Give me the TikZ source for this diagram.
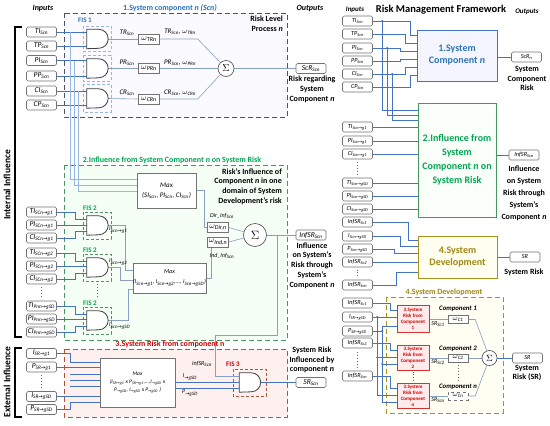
\documentclass[tikz,border=0pt]{standalone}
\usepackage{fontspec}
\setmainfont{Carlito}
\newfontfamily\arrfont{DejaVu Sans}
\usetikzlibrary{calc}
\definecolor{cBlue}{RGB}{46,117,182}
\definecolor{cGreen}{RGB}{0,165,80}
\definecolor{cRed}{RGB}{204,0,0}
\definecolor{cOlive}{RGB}{160,135,20}
\definecolor{lnBlue}{RGB}{68,114,196}
\definecolor{lnLight}{RGB}{150,182,228}
\definecolor{lnGray}{RGB}{135,160,195}
\definecolor{bxGray}{RGB}{115,115,115}
\definecolor{dashA}{RGB}{68,84,106}
\definecolor{dashB}{RGB}{70,150,95}
\definecolor{dashC}{RGB}{175,85,60}
\definecolor{dashD}{RGB}{170,145,30}
\pgfdeclarelayer{secs}
\pgfdeclarelayer{wires}
\pgfsetlayers{secs,wires,main}
\newcommand{\myar}{{\arrfont →}}
\newcommand{\sbs}[1]{\textsubscript{#1}}
\newcommand{\gateshape}[1]{\draw[gateline] (#1.south west) -- (#1.north west) -- ([xshift=-9.5pt]#1.north east) arc[start angle=90,end angle=-90,radius=9.5pt] -- cycle;}
\tikzset{
  var/.style={draw=bxGray, rounded corners=1.5pt, fill=white, minimum width=30pt, minimum height=10pt, inner sep=0pt, line width=0.6pt, font=\fontsize{7.5}{8}\selectfont\itshape},
  rvar/.style={var, font=\fontsize{6.2}{7}\selectfont\itshape},
  wbox/.style={draw=bxGray, fill=white, minimum width=21pt, minimum height=10pt, inner sep=0pt, line width=0.5pt, font=\fontsize{8}{8}\selectfont\itshape},
  maxbox/.style={draw=bxGray, fill=white, inner sep=0pt, line width=0.6pt, font=\fontsize{7}{10}\selectfont\itshape, align=center},
  gatenode/.style={minimum width=21pt, minimum height=19pt, inner sep=0pt},
  gateline/.style={draw=black!75, line width=0.8pt, fill=white},
  sumnode/.style={circle, draw=black!70, fill=white, line width=0.6pt, inner sep=0pt},
  wr/.style={draw=lnBlue, line width=0.6pt},
  wrl/.style={draw=lnLight, line width=0.6pt},
  wrg/.style={draw=lnGray, line width=0.6pt},
  lbl/.style={font=\fontsize{8}{9.7}\selectfont\bfseries, align=center, inner sep=0pt},
  smalltxt/.style={font=\fontsize{7}{8}\selectfont\itshape, inner sep=0.5pt},
  tinytxt/.style={font=\fontsize{6}{7}\selectfont\itshape, inner sep=0.5pt},
  fis/.style={font=\fontsize{7}{8}\selectfont\bfseries, inner sep=0pt},
  secbox/.style={dash pattern=on 5pt off 3pt, line width=0.9pt},
  fisbox/.style={dash pattern=on 3pt off 2pt, line width=0.6pt},
  jdot/.style={circle, fill=lnBlue, inner sep=0pt, minimum size=2.4pt},
  bigbox/.style={line width=1pt, align=center, inner sep=0pt},
  pinkbox/.style={draw=cRed!80, fill=red!8, line width=0.6pt, minimum width=32pt, align=center, inner sep=0pt, text=cRed, font=\fontsize{5}{6}\selectfont\bfseries},
  vdots/.style={dotted, line width=0.9pt, draw=black!60},
  hdr/.style={font=\fontsize{8}{9}\selectfont\bfseries\itshape, inner sep=0pt},
  complbl/.style={font=\fontsize{6.8}{8}\selectfont\bfseries\itshape, inner sep=0pt},
}
\begin{document}
\begin{tikzpicture}[x=1pt,y=-1pt]
\useasboundingbox (0,0) rectangle (550,426);
\begin{pgfonlayer}{secs}
\fill[white] (0,0) rectangle (550,426);
\draw[secbox, draw=dashA, fill=blue!2] (64,13) rectangle (287,117);
\draw[secbox, draw=dashB, fill=green!4] (64,165) rectangle (287,340);
\draw[secbox, draw=dashC, fill=red!6] (64,349) rectangle (287,417);
\draw[secbox, draw=dashD, fill=yellow!5] (386,297) rectangle (503,413);
\draw[fisbox, draw=lnLight] (83,26) rectangle (111,51);
\draw[fisbox, draw=lnLight] (83,55) rectangle (111,81);
\draw[fisbox, draw=lnLight] (83,84) rectangle (111,112);
\draw[fisbox, draw=dashB!70!gray] (83,212) rectangle (111,239);
\draw[fisbox, draw=dashB!70!gray] (83,254) rectangle (111,281);
\draw[fisbox, draw=dashB!70!gray] (83,307) rectangle (111,334);
\draw[fisbox, draw=dashC] (233,369) rectangle (266,396);
\end{pgfonlayer}

% brackets
\draw[line width=1.3pt] (22,27) -- (15,27) -- (15,337) -- (22,337);
\draw[line width=1.3pt] (22,348) -- (15,348) -- (15,417) -- (22,417);
\node[rotate=90, font=\fontsize{9.5}{10}\selectfont\bfseries, inner sep=0pt] (intl) at (7,185) {Internal Influence};
\node[rotate=90, font=\fontsize{9.5}{10}\selectfont\bfseries, inner sep=0pt] (extl) at (7,382) {External Influence};

% headers left
\node[hdr] (hin) at (43,9) {Inputs};
\node[hdr] (hout) at (310,9) {Outputs};
\node[lbl, text=cBlue] (t1) at (170,8) {1.System component \textit{n (Scn)}};
\node[lbl, anchor=north east, align=right] (rlp) at (283,16) {Risk Level\\Process \textit{n}};
\node[fis, text=cBlue] (fis1) at (85,20) {FIS 1};

% section 1
\node[var] (TI1) at (41.5,32) {TI\sbs{Scn}};
\node[var] (TP1) at (41.5,46) {TP\sbs{Scn}};
\node[var] (PI1) at (41.5,60.5) {PI\sbs{Scn}};
\node[var] (PP1) at (41.5,76) {PP\sbs{Scn}};
\node[var] (CI1) at (41.5,91) {CI\sbs{Scn}};
\node[var] (CP1) at (41.5,105) {CP\sbs{Scn}};
\node[gatenode] (g1) at (97.5,39) {};
\node[gatenode] (g2) at (97.5,68.5) {};
\node[gatenode] (g3) at (97.5,98.5) {};
\node[wbox] (w1) at (149,39) {$\omega$\sbs{TRn}};
\node[wbox] (w2) at (149,68.5) {$\omega$\sbs{PRn}};
\node[wbox] (w3) at (149,99) {$\omega$\sbs{CRn}};
\node[smalltxt] (l1a) at (127,33) {TR\sbs{Scn}};
\node[smalltxt] (l2a) at (127,63) {PR\sbs{Scn}};
\node[smalltxt] (l3a) at (127,93) {CR\sbs{Scn}};
\node[smalltxt] (l1b) at (180,32) {TR\sbs{Scn}, $\omega$\sbs{TRn}};
\node[smalltxt] (l2b) at (180,62.5) {PR\sbs{Scn}, $\omega$\sbs{PRn}};
\node[smalltxt] (l3b) at (180,93) {CR\sbs{Scn}, $\omega$\sbs{CRn}};
\node[sumnode, minimum size=16pt] (s1) at (226,68.5) {\fontsize{10}{10}\selectfont$\Sigma$};
\node[var] (ScR) at (311,68.5) {ScR\sbs{Scn}};
\node[lbl] (ScRl) at (312,89.5) {Risk regarding\\System\\Component \textit{n}};

% section 2
\node[lbl, text=cGreen] (t2) at (172,160) {2.Influence from System Component \textit{n} on System Risk};
\node[maxbox, minimum width=59pt, minimum height=35pt] (M1) at (166.5,190.5) {Max\\(SI\sbs{Scn}, PI\sbs{Scn}, CI\sbs{Scn})};
\node[lbl, anchor=north east, align=right] (rinf) at (282,168) {Risk's Influence of\\Component \textit{n} in one\\domain of System\\Development's risk};
\node[tinytxt] (dirl) at (222,216) {Dir\_Inf\sbs{Scn}};
\node[wbox] (wd) at (218,227.5) {$\omega$\sbs{Dir,n}};
\node[wbox] (wi) at (218,242) {$\omega$\sbs{Ind,n}};
\node[tinytxt] (indl) at (222,256) {Ind\_Inf\sbs{Scn}};
\node[sumnode, minimum size=23pt] (s2) at (255,235) {\fontsize{13}{13}\selectfont$\Sigma$};
\node[var] (InfO) at (311,235) {InfSR\sbs{Scn}};
\node[lbl] (InfOl) at (312,265.5) {Influence\\on System's\\Risk through\\System's\\Component \textit{n}};
\node[fis, text=cGreen] (fis2a) at (90,208) {FIS 2};
\node[fis, text=cGreen] (fis2b) at (90,250) {FIS 2};
\node[fis, text=cGreen] (fis2c) at (90,303) {FIS 2};
\node[gatenode] (gA) at (97.5,225.5) {};
\node[gatenode] (gB) at (97.5,267.5) {};
\node[gatenode] (gC) at (97.5,320.5) {};
\node[var] (TIa) at (41.5,212) {TI\sbs{SCn\myar g1}};
\node[var] (PIa) at (41.5,225) {PI\sbs{SCn\myar g1}};
\node[var] (CIa) at (41.5,238) {CI\sbs{SCn\myar g1}};
\node[var] (TIb) at (41.5,253) {TI\sbs{SCn\myar g2}};
\node[var] (PIb) at (41.5,266) {PI\sbs{SCn\myar g2}};
\node[var] (CIb) at (41.5,279) {CI\sbs{SCn\myar g2}};
\node[var] (TIc) at (41.5,306) {TI\sbs{Pnn\myar gSD}};
\node[var] (PIc) at (41.5,319) {PI\sbs{Pnn\myar gSD}};
\node[var] (CIc) at (41.5,332) {CI\sbs{Pnn\myar gSD}};
\node[maxbox, minimum width=65pt, minimum height=30pt, font=\fontsize{6}{10}\selectfont\itshape] (M2) at (169.5,278) {Max\\(I\sbs{Scn\myar g1}, I\sbs{Scn\myar g2},..., I\sbs{Scn\myar gSD})};
\node[tinytxt, anchor=west] (lA) at (108.5,230) {I\sbs{Scn\myar g1}};
\node[tinytxt, anchor=west] (lB) at (108.5,262) {I\sbs{Scn\myar g2}};
\node[tinytxt, anchor=west] (lC) at (108.5,326) {I\sbs{Scn\myar gSD}};

% section 3
\node[lbl, text=cRed] (t3) at (170,344) {3.System Risk from component n};
\node[var] (I1s) at (41.5,353.5) {I\sbs{SR\myar g1}};
\node[var] (P1s) at (41.5,367) {P\sbs{SR\myar g1}};
\node[var] (I2s) at (41.5,396.5) {I\sbs{SR\myar gSD}};
\node[var] (P2s) at (41.5,409.5) {P\sbs{SR\myar gSD}};
\node[maxbox, minimum width=75pt, minimum height=49pt, font=\fontsize{5.5}{8}\selectfont\itshape] (M3) at (137.5,382.5) {Max\\(I\sbs{SR\myar g1} x P\sbs{SR\myar g1},...,I\sbs{\myar gSD} x\\P\sbs{\myar gSD}, I\sbs{\myar gSD} x P\sbs{\myar gSD} )};
\node[gatenode] (g4) at (250,382.5) {};
\node[fis, text=cRed] (fis3) at (233,364) {FIS 3};
\node[tinytxt] (infl) at (202,364) {InfSR\sbs{Scn}};
\node[tinytxt] (lI) at (190,377) {I\sbs{\myar gSD}};
\node[tinytxt] (lP) at (190,393) {P\sbs{\myar gSD}};
\node[var] (SRs) at (311,382.5) {SR\sbs{Scn}};
\node[lbl] (SRsl) at (312,360) {System Risk\\Influenced by\\component \textit{n}};

% gates
\gateshape{g1}\gateshape{g2}\gateshape{g3}
\gateshape{gA}\gateshape{gB}\gateshape{gC}\gateshape{g4}

% right panel
\node[font=\fontsize{7}{8}\selectfont\bfseries\itshape, inner sep=0pt] (rhin) at (355,10) {Inputs};
\node[font=\fontsize{10.5}{12}\selectfont\bfseries, inner sep=0pt] (rmf) at (441,10) {Risk Management Framework};
\node[font=\fontsize{7}{8}\selectfont\bfseries\itshape, inner sep=0pt] (rhout) at (527,12) {Outputs};
\node[rvar] (rTI) at (357.5,21) {TI\sbs{Scn}};
\node[rvar] (rTP) at (357.5,34) {TP\sbs{Scn}};
\node[rvar] (rPI) at (357.5,48) {PI\sbs{Scn}};
\node[rvar] (rPP) at (357.5,61) {PP\sbs{Scn}};
\node[rvar] (rCI) at (357.5,74) {CI\sbs{Scn}};
\node[rvar] (rCP) at (357.5,87) {CP\sbs{Scn}};
\node[rvar] (rTIg) at (357.5,127) {TI\sbs{Scn\myar g1}};
\node[rvar] (rPIg) at (357.5,141) {PI\sbs{Scn\myar g1}};
\node[rvar] (rCIg) at (357.5,154) {CI\sbs{Scn\myar g1}};
\node[rvar] (rTIs) at (357.5,183) {TI\sbs{Scn\myar gSD}};
\node[rvar] (rPIs) at (357.5,196) {PI\sbs{Scn\myar gSD}};
\node[rvar] (rCIs) at (357.5,209) {CI\sbs{Scn\myar gSD}};
\node[rvar] (rInf1) at (357.5,222) {InfSR\sbs{Sc1}};
\node[rvar] (rIg) at (357.5,236) {I\sbs{Scn\myar gSD}};
\node[rvar] (rPg) at (357.5,249) {P\sbs{Scn\myar gSD}};
\node[rvar] (rInf2) at (357.5,262) {InfSR\sbs{Sc2}};
\node[rvar] (rInfn) at (357.5,285) {InfSR\sbs{Scn}};
\node[rvar] (bInf1) at (357.5,303) {InfSR\sbs{Sc1}};
\node[rvar] (bI) at (357.5,317) {I\sbs{SR\myar gSD}};
\node[rvar] (bP) at (357.5,331) {P\sbs{SR\myar gSD}};
\node[rvar] (bInf2) at (357.5,343) {InfSR\sbs{Sc2}};
\node[rvar] (bInfn) at (357.5,376) {InfSR\sbs{Scn}};

\node[bigbox, draw=lnBlue, fill=blue!4, text=cBlue, minimum width=80pt, minimum height=51pt, font=\fontsize{10}{12}\selectfont\bfseries] (B1) at (457,55.5) {1.System\\Component \textit{n}};
\node[bigbox, draw=dashB, fill=green!2, text=cGreen, minimum width=78pt, minimum height=114pt, font=\fontsize{10}{14}\selectfont\bfseries] (B2) at (457,160) {2.Influence from\\System\\Component \textit{n} on\\System Risk};
\node[bigbox, draw=dashD, fill=yellow!6, text=cOlive, minimum width=79pt, minimum height=42pt, font=\fontsize{10}{12}\selectfont\bfseries] (B4) at (457.5,257) {4.System\\Development};

\node[rvar] (oScR) at (526.5,57) {ScR\sbs{n}};
\node[lbl] (oScRl) at (527,78.5) {System\\Component\\Risk};
\node[rvar] (oInf) at (524,155) {InfSR\sbs{Scn}};
\node[lbl, font=\fontsize{8}{12}\selectfont\bfseries] (oInfl) at (524,193) {Influence\\on System\\Risk through\\System's\\Component \textit{n}};
\node[rvar] (oSR) at (525,257) {SR};
\node[lbl] (oSRl) at (524,272) {System Risk};

% bottom right
\node[lbl, text=cOlive] (t4) at (444,292) {4.System Development};
\node[pinkbox, minimum height=27pt] (pk1) at (413,318.5) {3.System\\Risk from\\Component\\1};
\node[pinkbox, minimum height=25pt] (pk2) at (413,357.5) {3.System\\Risk from\\Component\\2};
\node[pinkbox, minimum height=25pt] (pk3) at (413,395.5) {3.System\\Risk from\\Component\\\textit{n}};
\node[wbox, minimum width=20pt, minimum height=8pt, font=\fontsize{7}{7}\selectfont\itshape] (wc1) at (458,319.5) {$\omega$\sbs{C1}};
\node[wbox, minimum width=20pt, minimum height=8pt, font=\fontsize{7}{7}\selectfont\itshape] (wc2) at (458,358) {$\omega$\sbs{C2}};
\node[wbox, dashed, minimum width=20pt, minimum height=8pt, font=\fontsize{7}{7}\selectfont\itshape] (wc3) at (458,396) {$\omega$\sbs{Cn}};
\node[complbl] (cl1) at (458,308.5) {Component 1};
\node[complbl] (cl2) at (458,349) {Component 2};
\node[complbl] (cl3) at (458,387) {Component n};
\node[tinytxt, anchor=north] (sr1) at (438,320.5) {SR\sbs{Sc1}};
\node[tinytxt, anchor=north] (sr2) at (438,359) {SR\sbs{Sc2}};
\node[tinytxt, anchor=north] (sr3) at (438,397) {SR\sbs{Scn}};
\node[sumnode, minimum size=15pt] (s3) at (489.5,358) {\fontsize{9}{9}\selectfont$\Sigma$};
\node[rvar] (oSR2) at (527.5,358) {SR};
\node[lbl, font=\fontsize{8}{9}\selectfont\bfseries] (oSR2l) at (527,372.5) {System\\Risk (SR)};

% vertical dots
\draw[vdots] (41.5,287) -- (41.5,298);
\draw[vdots] (41.5,375) -- (41.5,389);
\draw[vdots] (97.5,284) -- (97.5,298);
\draw[vdots] (357.5,162) -- (357.5,175);
\draw[vdots] (357.5,269.5) -- (357.5,277.5);
\draw[vdots] (357.5,352) -- (357.5,367);
\draw[vdots] (413,371.5) -- (413,381.5);
\draw[vdots] (wc2.south) -- ++(0,20);

\begin{pgfonlayer}{wires}
% section 1
\draw[wr] (TI1.east) -- (TI1.east -| g1.west);
\draw[wr] (TP1.east) -- (TP1.east -| g1.west);
\draw[wr] (PI1.east) -- (PI1.east -| g2.west);
\draw[wr] (PP1.east) -- (PP1.east -| g2.west);
\draw[wr] (CI1.east) -- (CI1.east -| g3.west);
\draw[wr] (CP1.east) -- (CP1.east -| g3.west);
\draw[wrl] (TI1.east) ++(13.5,0) |- ([yshift=11.5pt]M1.west);
\draw[wrl] (PI1.east) ++(17.5,0) |- ([yshift=5.5pt]M1.west);
\draw[wrl] (CI1.east) ++(21.5,0) |- ([yshift=-0.5pt]M1.west);
\draw[wrg] (g1.east) -- (w1.west);
\draw[wrg] (g2.east) -- (w2.west);
\draw[wrg] (g3.east) -- (w3.west);
\draw[wrg] (w1.east) -- ++(38,0) -- (s1);
\draw[wrg] (w2.east) -- (s1);
\draw[wrg] (w3.east) -- ++(38,0) -- (s1);
\draw[wrg] (s1.east) -- (ScR.west);
% section 2
\draw[wr] (TIa.east) -- ++(18.5,0) |- ([yshift=6pt]gA.west);
\draw[wr] (PIa.east) -- (PIa.east -| gA.west);
\draw[wr] (CIa.east) -- ++(18.5,0) |- ([yshift=-6pt]gA.west);
\draw[wr] (TIb.east) -- ++(18.5,0) |- ([yshift=6pt]gB.west);
\draw[wr] (PIb.east) -- (PIb.east -| gB.west);
\draw[wr] (CIb.east) -- ++(18.5,0) |- ([yshift=-6pt]gB.west);
\draw[wr] (TIc.east) -- ++(18.5,0) |- ([yshift=6pt]gC.west);
\draw[wr] (PIc.east) -- (PIc.east -| gC.west);
\draw[wr] (CIc.east) -- ++(18.5,0) |- ([yshift=-6pt]gC.west);
\draw[wrg] (gA.east) -- ++(17.5,0) |- ([yshift=8pt]M2.west);
\draw[wrg] (gB.east) -- ++(12.5,0) |- ([yshift=-2pt]M2.west);
\draw[wrg] (gC.east) -- ++(20.5,0) |- ([yshift=-11pt]M2.west);
\draw[wrg] (M1.east) -- ++(8,0) |- (wd.west);
\draw[wrg] (M2.east) -- ++(5,0) |- (wi.west);
\draw[wrg] (wd.east) -- (s2);
\draw[wrg] (wi.east) -- (s2);
\draw[wrg] (s2.east) -- (InfO.west);
\draw[wrg] (s2.east) ++(10.5,0) -- ++(0,100) -| ([xshift=-24pt,yshift=6.5pt]g4.west) -- ([yshift=6.5pt]g4.west);
% section 3
\draw[wr] (I1s.east) -- ++(13.5,0) |- ([yshift=20.5pt]M3.west);
\draw[wr] (P1s.east) -- (P1s.east -| M3.west);
\draw[wr] ([yshift=8pt]M3.west) -- ++(-30,0);
\draw[wr] ([yshift=2pt]M3.west) -- ++(-30,0);
\draw[wr] ([yshift=-4pt]M3.west) -- ++(-30,0);
\draw[wr] (I2s.east) -- (I2s.east -| M3.west);
\draw[wr] (P2s.east) -- ++(13.5,0) |- ([yshift=-19.5pt]M3.west);
\draw[wr] ([yshift=0.5pt]M3.east) -- ([yshift=0.5pt]g4.west);
\draw[wr] ([yshift=-5.5pt]M3.east) -- ([yshift=-5.5pt]g4.west);
\draw[wr] (g4.east) -- (SRs.west);
% right panel box 1
\draw[wr] (rTI.east) -- ++(37.5,0) |- ([yshift=20.5pt]B1.west);
\draw[wr] (rTP.east) -- ++(32.5,0) |- ([yshift=12.5pt]B1.west);
\draw[wr] (rPI.east) -- ++(27.5,0) |- ([yshift=4.5pt]B1.west);
\draw[wr] (rPP.east) -- ++(27.5,0) |- ([yshift=-3.5pt]B1.west);
\draw[wr] (rCI.east) -- ++(32.5,0) |- ([yshift=-11.5pt]B1.west);
\draw[wr] (rCP.east) -- ++(37.5,0) |- ([yshift=-19.5pt]B1.west);
\draw[wr] (rTI.east) ++(9.5,0) node[jdot]{} |- ([yshift=50pt]B2.west);
\draw[wr] (rPI.east) ++(14.5,0) node[jdot]{} |- ([yshift=45pt]B2.west);
\draw[wr] (rCI.east) ++(19.5,0) node[jdot]{} |- ([yshift=40pt]B2.west);
% box 2
\draw[wr] (rTIg.east) -- (rTIg.east -| B2.west);
\draw[wr] (rPIg.east) -- (rPIg.east -| B2.west);
\draw[wr] (rCIg.east) -- (rCIg.east -| B2.west);
\draw[wr] (rTIs.east) -- (rTIs.east -| B2.west);
\draw[wr] (rPIs.east) -- (rPIs.east -| B2.west);
\draw[wr] (rCIs.east) -- (rCIs.east -| B2.west);
% box 4
\draw[wr] (rInf1.east) -- ++(35.5,0) |- ([yshift=17pt]B4.west);
\draw[wr] (rIg.east) -- ++(27.5,0) |- ([yshift=11pt]B4.west);
\draw[wr] (rPg.east) -- ++(21.5,0) |- ([yshift=4pt]B4.west);
\draw[wr] (rInf2.east) -- (rInf2.east -| B4.west);
\draw[wr] (rInfn.east) -- ++(23.5,0) |- ([yshift=-15pt]B4.west);
% outputs
\draw[wr] (B1.east |- oScR) -- (oScR.west);
\draw[wr] (B2.east |- oInf) -- (oInf.west);
\draw[wr] (B4.east) -- (oSR.west);
% bottom right
\coordinate (Ibus) at ([xshift=4.5pt]bI.east);
\coordinate (Pbus) at ([xshift=9.5pt]bP.east);
\draw[wr] (bInf1.east) -- ++(17.5,0) |- ([yshift=8.5pt]pk1.west);
\draw[wr] (bI.east) -- (bI.east -| pk1.west);
\draw[wr] (Ibus) |- (pk2.west);
\draw[wr] (Ibus) |- (pk3.west);
\draw[wr] (bP.east) -- (Pbus) |- ([yshift=-7.5pt]pk1.west);
\draw[wr] (Pbus) |- ([yshift=-6.5pt]pk2.west);
\draw[wr] (Pbus) |- ([yshift=-6.5pt]pk3.west);
\draw[wr] (bInf2.east) -- ++(17.5,0) |- ([yshift=7.5pt]pk2.west);
\draw[wr] (bInfn.east) -- ++(17.5,0) |- ([yshift=7.5pt]pk3.west);
\node[jdot] at (Ibus) {};
\node[jdot] at (Ibus |- pk2.west) {};
\node[jdot] at (Pbus) {};
\node[jdot] at ($(Pbus |- pk2.west)+(0,6.5)$) {};
\draw[wrg] (pk1.east |- wc1) -- (wc1.west);
\draw[wrg] (pk2.east |- wc2) -- (wc2.west);
\draw[wrg] (pk3.east |- wc3) -- (wc3.west);
\draw[wrg] (wc1.east) -- ++(7,0) -- (s3);
\draw[wrg] (wc2.east) -- (s3);
\draw[wrg] (wc3.east) -- ++(7,0) -- (s3);
\draw[wr] (s3.east) -- (oSR2.west);
\end{pgfonlayer}
\end{tikzpicture}
\end{document}
